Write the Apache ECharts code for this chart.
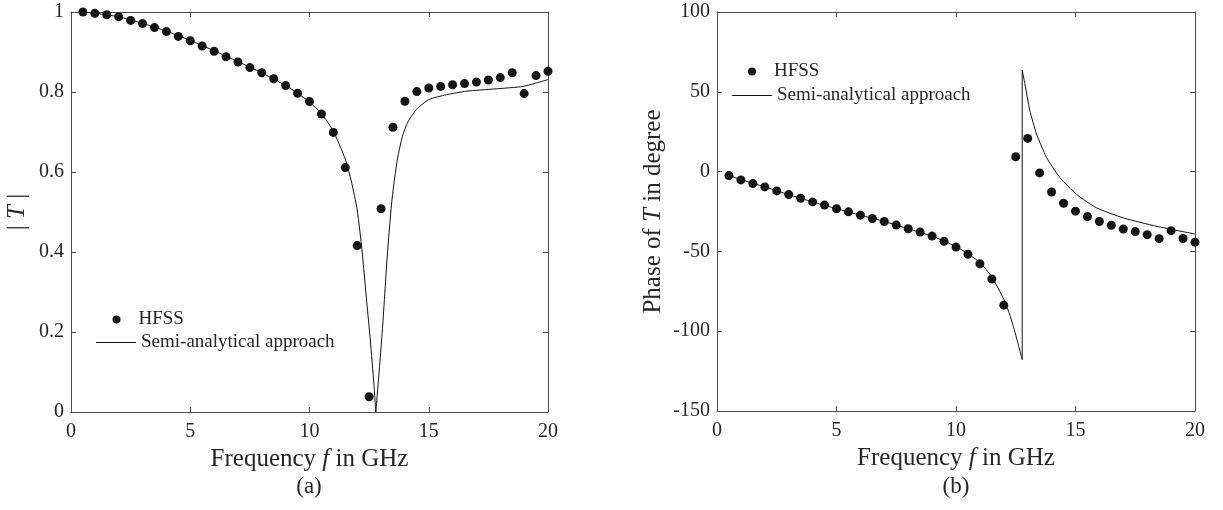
<!DOCTYPE html>
<html>
<head>
<meta charset="utf-8">
<script src="https://cdn.jsdelivr.net/npm/echarts@6/dist/echarts.min.js"></script>
<style>
  html, body { margin: 0; background: #fff; }
  #chart { width: 1223px; height: 510px; }
</style>
</head>
<body>
<div id="chart"></div>
<script>
// HFSS samples: 0.5 GHz steps
const freqHFSS = [0.5, 1, 1.5, 2, 2.5, 3, 3.5, 4, 4.5, 5, 5.5, 6, 6.5, 7, 7.5, 8, 8.5, 9, 9.5, 10,
  10.5, 11, 11.5, 12, 12.5, 13, 13.5, 14, 14.5, 15, 15.5, 16, 16.5, 17, 17.5, 18, 18.5, 19, 19.5, 20];
const hfssMag = [1.000, 0.997, 0.993, 0.988, 0.979, 0.971, 0.961, 0.951, 0.939, 0.928, 0.915, 0.902, 0.888, 0.875,
  0.861, 0.848, 0.833, 0.816, 0.797, 0.776, 0.745, 0.699, 0.611, 0.416, 0.038, 0.508, 0.712, 0.777, 0.801, 0.810,
  0.814, 0.818, 0.821, 0.825, 0.830, 0.836, 0.848, 0.796, 0.841, 0.852];
const hfssPhase = [-2.5, -5.2, -7.5, -9.6, -12.1, -14.4, -16.7, -19.0, -21.0, -23.3, -25.2, -27.3, -29.4, -31.3,
  -33.5, -35.8, -37.9, -40.4, -43.7, -47.3, -51.8, -57.8, -67.3, -83.7, 9.3, 20.8, -0.8, -12.8, -19.8, -24.8,
  -28.2, -31.3, -33.6, -36.0, -37.6, -39.5, -42.0, -37.0, -41.9, -44.2];

// semi-analytical curves (denser near the resonance at ~12.8 GHz)
const semiFreqMag = [0.5, 1, 2, 3, 4, 5, 6, 7, 8, 9, 9.5, 10, 10.5, 11, 11.5, 11.75, 12, 12.2, 12.4, 12.55, 12.7,
  12.78, 12.85, 13.05, 13.26, 13.44, 13.57, 13.71, 13.9, 14.1, 14.48, 15, 15.73, 16.57, 17.83, 18.95, 20];
const semiMag = [1.0, 0.997, 0.988, 0.972, 0.952, 0.929, 0.903, 0.876, 0.848, 0.816, 0.797, 0.775, 0.746, 0.702,
  0.632, 0.578, 0.505, 0.405, 0.275, 0.18, 0.07, 0.0, 0.05, 0.2, 0.39, 0.52, 0.585, 0.64, 0.69, 0.722, 0.756,
  0.781, 0.793, 0.802, 0.808, 0.814, 0.831];
const semiFreqPh = [0.5, 1, 2, 3, 4, 5, 6, 7, 8, 9, 10, 10.5, 11, 11.5, 12, 12.2, 12.4, 12.6, 12.77, 12.77,
  12.88, 13.09, 13.37, 13.79, 14.35, 15.05, 15.88, 17.0, 18.4, 20];
const semiPh = [-2.5, -5, -9.6, -14.4, -19, -23.3, -27.3, -31.3, -35.8, -40.4, -47, -51.5, -57, -66, -80, -87.5,
  -97, -108, -117.8, 63.6, 55.2, 38.3, 23.6, 8.8, -3.8, -14.3, -22.7, -29.0, -34.3, -39.1];

const FONT = "Liberation Serif";
const AXIS = "#4d4d4d";
const TEXT = "#262626";
const MARK = "#151515";
const SEMI = "Semi-analytical approach";

const zip = (xs, ys) => xs.map((x, i) => [x, ys[i]]);
const labelRich = {
  n: { fontFamily: FONT, fontSize: 25, color: TEXT },
  i: { fontFamily: FONT, fontSize: 25, color: TEXT, fontStyle: "italic" },
};

// MATLAB-style box: ticks inside on all four sides, labels only bottom/left
function xAxes(grid, name) {
  const base = {
    gridIndex: grid, type: "value", min: 0, max: 20, interval: 5,
    axisLine: { show: true, onZero: false, lineStyle: { color: AXIS, width: 1 } },
    axisTick: { show: true, inside: true, length: 5, lineStyle: { color: AXIS } },
    splitLine: { show: false },
  };
  return [
    { ...base, position: "bottom",
      axisLabel: { color: TEXT, fontFamily: FONT, fontSize: 20, margin: 10, showMinLabel: true, showMaxLabel: true },
      name, nameLocation: "middle", nameGap: 35, nameTextStyle: { rich: labelRich } },
    { ...base, position: "top", axisLabel: { show: false } },
  ];
}
function yAxes(grid, min, max, interval, name, gap) {
  const base = {
    gridIndex: grid, type: "value", min, max, interval,
    axisLine: { show: true, onZero: false, lineStyle: { color: AXIS, width: 1 } },
    axisTick: { show: true, inside: true, length: 5, lineStyle: { color: AXIS } },
    splitLine: { show: false },
  };
  return [
    { ...base, position: "left",
      axisLabel: { color: TEXT, fontFamily: FONT, fontSize: 20, margin: 7, showMinLabel: true, showMaxLabel: true },
      name, nameLocation: "middle", nameRotate: 90, nameGap: gap, nameTextStyle: { rich: labelRich } },
    { ...base, position: "right", axisLabel: { show: false } },
  ];
}

// one legend per entry so the dot and the plain line get their own icon size
const legendText = { fontFamily: FONT, fontSize: 19, color: TEXT };
function legendDot(left, top) {
  return {
    left, top, padding: 0, selectedMode: false,
    itemWidth: 8, itemHeight: 8,
    data: [{ name: "HFSS", icon: "circle" }],
    formatter: "{g|}{t|{name}}",
    textStyle: { ...legendText, rich: { g: { width: 13 }, t: legendText } },
  };
}
function legendLine(left, top) {
  return {
    left, top, padding: 0, selectedMode: false,
    itemWidth: 40, itemHeight: 1,
    data: [{ name: SEMI, icon: "rect" }],
    textStyle: legendText,
  };
}

function curve(xi, yi, data, smooth) {
  return { type: "line", name: SEMI, xAxisIndex: xi, yAxisIndex: yi, data, color: "#111",
    symbol: "none", smooth, lineStyle: { color: "#111", width: 1 }, z: 2 };
}

const magPts = zip(semiFreqMag, semiMag);
const phPts = zip(semiFreqPh, semiPh);
const dipAt = 21;   // index of the |T| zero
const jumpAt = 18;  // phase jumps between index 18 and 19

const chart = echarts.init(document.getElementById("chart"));
chart.setOption({
  animation: false,
  backgroundColor: "#fff",
  grid: [
    { left: 71, top: 12, width: 477, height: 400 },
    { left: 717, top: 12, width: 478, height: 399 },
  ],
  xAxis: [...xAxes(0, "{n|Frequency }{i|f}{n| in GHz}"), ...xAxes(1, "{n|Frequency }{i|f}{n| in GHz}")],
  yAxis: [
    ...yAxes(0, 0, 1, 0.2, "{n|| }{i|T}{n| |}", 41),
    ...yAxes(1, -150, 100, 50, "{n|Phase of }{i|T}{n| in degree}", 51),
  ],
  legend: [
    legendDot(112.5, 310),
    legendLine(96, 333),
    legendDot(748, 62),
    legendLine(732, 86),
  ],
  graphic: [
    { type: "text", x: 309, y: 487, style: { text: "(a)", textAlign: "center", align: "center",
      textVerticalAlign: "middle", verticalAlign: "middle", font: `23px "${FONT}"`, fill: TEXT } },
    { type: "text", x: 956, y: 487, style: { text: "(b)", textAlign: "center", align: "center",
      textVerticalAlign: "middle", verticalAlign: "middle", font: `23px "${FONT}"`, fill: TEXT } },
  ],
  series: [
    curve(0, 0, magPts.slice(0, dipAt + 1), 0.2),
    curve(0, 0, magPts.slice(dipAt), 0.2),
    { type: "scatter", name: "HFSS", xAxisIndex: 0, yAxisIndex: 0, color: MARK,
      data: zip(freqHFSS, hfssMag), symbolSize: 9, itemStyle: { color: MARK, opacity: 1 }, z: 3 },
    curve(2, 2, phPts.slice(0, jumpAt + 1), 0.2),
    curve(2, 2, phPts.slice(jumpAt, jumpAt + 2), false),
    curve(2, 2, phPts.slice(jumpAt + 1), 0.2),
    { type: "scatter", name: "HFSS", xAxisIndex: 2, yAxisIndex: 2, color: MARK,
      data: zip(freqHFSS, hfssPhase), symbolSize: 9, itemStyle: { color: MARK, opacity: 1 }, z: 3 },
  ],
});
</script>
</body>
</html>
